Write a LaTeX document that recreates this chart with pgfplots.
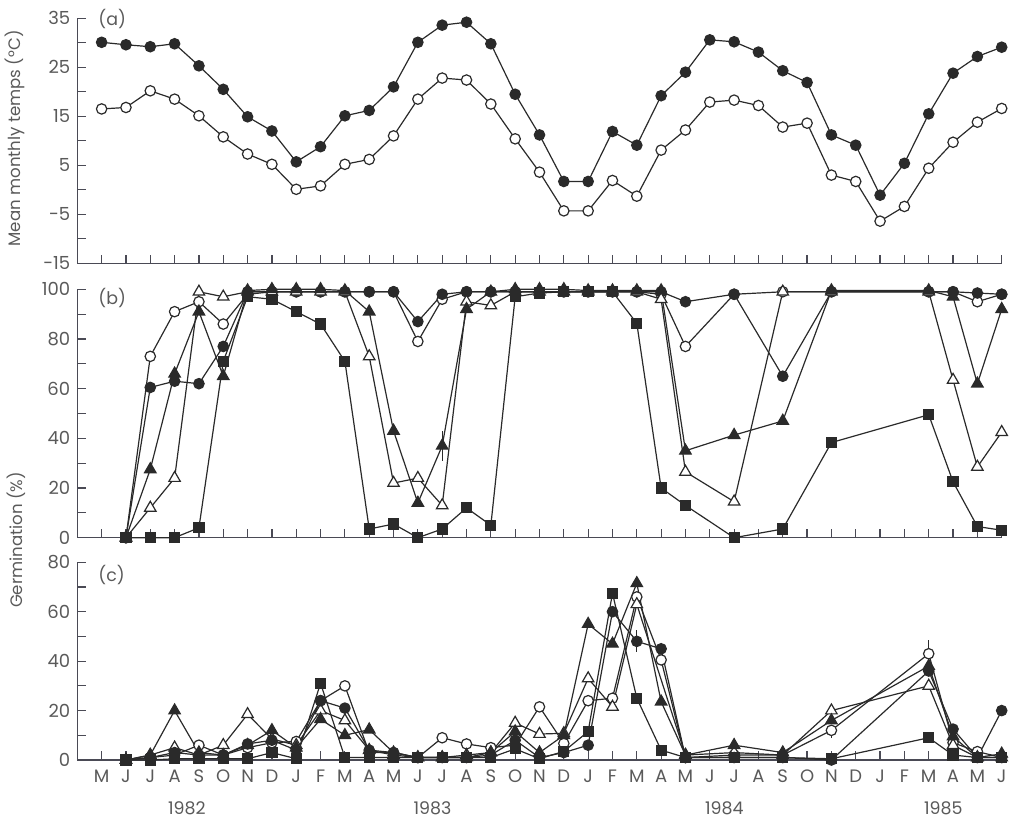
\documentclass[border=0pt]{standalone}
\usepackage{fontspec}
\setmainfont{Poppins}
\usepackage{pgfplots}
\pgfplotsset{compat=1.18}

\definecolor{ln}{HTML}{2A2A2A}
\definecolor{tx}{HTML}{5A5A5A}
\definecolor{ax}{HTML}{4A4A55}

\pgfplotsset{
  panel/.style={
    scale only axis, width=462.2pt, xmin=-1, xmax=37,
    anchor=south west,
    axis x line*=bottom, axis y line*=left,
    axis line style={ax, line width=0.7pt},
    every tick/.style={ax, line width=0.6pt},
    major tick length=4.3pt, minor tick length=4.3pt,
    tick align=inside,
    xtick={0,...,37}, xticklabels={},
    tick label style={font=\fontsize{9}{10}\selectfont, text=tx},
    clip=false,
    every axis plot/.append style={ln, line width=0.6pt},
  },
  fc/.style={mark=*, mark size=2.6pt, mark options={fill=ln, draw=ln}},
  oc/.style={mark=*, mark size=2.6pt, mark options={fill=white, draw=ln}},
  ft/.style={mark=triangle*, mark size=3.3pt, mark options={fill=ln, draw=ln}},
  ot/.style={mark=triangle*, mark size=3.3pt, mark options={fill=white, draw=ln}},
  fs/.style={mark=square*, mark size=2.5pt, mark options={fill=ln, draw=ln}},
  eb/.style={ln, line width=0.6pt, mark=none},
}
\newcommand{\lf}{\fontsize{8.7}{10}\selectfont}
\newcommand{\yf}{\fontsize{8.3}{10}\selectfont}

\begin{document}
\begin{tikzpicture}
\useasboundingbox (0,0) rectangle (508.5pt,409.5pt);

% ---------------- panel (a)
\begin{axis}[panel, at={(38.65pt,277.85pt)}, height=122.5pt,
  ymin=-15, ymax=35,
  ytick={-15,-10,...,35},
  yticklabels={-15,,-5,,5,,15,,25,,35}]
\addplot[fc] coordinates {
(0,30.1)(1,29.6)(2,29.2)(3,29.8)(4,25.3)(5,20.5)(6,14.9)(7,12.0)(8,5.7)(9,8.8)
(10,15.1)(11,16.2)(12,21.0)(13,30.1)(14,33.6)(15,34.2)(16,29.8)(17,19.5)(18,11.2)(19,1.7)
(20,1.7)(21,11.9)(22,9.1)(23,19.2)(24,24.0)(25,30.6)(26,30.2)(27,28.1)(28,24.3)(29,21.9)
(30,11.2)(31,9.1)(32,-1.1)(33,5.4)(34,15.5)(35,23.8)(36,27.2)(37,29.1)};
\addplot[oc] coordinates {
(0,16.5)(1,16.8)(2,20.2)(3,18.5)(4,15.1)(5,10.8)(6,7.3)(7,5.2)(8,0.1)(9,0.8)
(10,5.2)(11,6.2)(12,11.0)(13,18.5)(14,22.8)(15,22.4)(16,17.5)(17,10.4)(18,3.6)(19,-4.3)
(20,-4.3)(21,1.9)(22,-1.3)(23,8.1)(24,12.2)(25,17.9)(26,18.3)(27,17.2)(28,12.8)(29,13.6)
(30,3.0)(31,1.7)(32,-6.4)(33,-3.4)(34,4.4)(35,9.7)(36,13.8)(37,16.6)};
\node[anchor=west, text=tx, font=\lf, inner sep=0pt] at (axis cs:-0.15,34.9) {(a)};
\end{axis}

% ---------------- panel (b)
\begin{axis}[panel, at={(38.65pt,140.65pt)}, height=124.2pt,
  ymin=0, ymax=100,
  ytick={0,10,...,100},
  yticklabels={0,,20,,40,,60,,80,,100}]
\addplot[oc] coordinates {
(1,0)(2,73)(3,91)(4,95)(5,86)(6,98)(7,99)(8,99)(9,99)(10,99)(11,99)(12,99)(13,79)(14,96)
(15,99)(16,99)(17,99)(18,99)(19,99)(20,99)(21,99)(22,99)(23,98)(24,77)(26,98)(28,99)
(30,99)(34,99)(35,99)(36,95)(37,98)};
\addplot[fc] coordinates {
(1,0)(2,60.5)(3,63)(4,62)(5,77)(6,99)(7,99)(8,99)(9,99)(10,99)(11,99)(12,99)(13,87)(14,98)
(15,99)(16,99)(17,99)(18,99)(19,99)(20,99)(21,99)(22,99)(23,99)(24,95)(26,98)(28,65)
(30,99)(34,99)(35,99)(36,98.5)(37,98)};
\addplot[ot] coordinates {
(1,0)(2,12)(3,24)(4,99)(5,97)(6,99)(7,99)(8,99)(9,99)(10,99)(11,73)(12,22)(13,24)(14,13)
(15,95)(16,93.5)(17,99)(18,99)(19,99)(20,99)(21,99)(22,99)(23,96)(24,26.5)(26,14.5)(28,99)
(30,99)(34,99)(35,63.5)(36,28.5)(37,42.5)};
\addplot[ft] coordinates {
(1,0)(2,27.5)(3,66)(4,91)(5,65)(6,99.5)(7,100)(8,100)(9,100)(10,99.5)(11,91)(12,43)(13,14)(14,37)
(15,92)(16,99)(17,100)(18,100)(19,100)(20,99.5)(21,99.5)(22,99.5)(23,99.5)(24,35)(26,41.3)(28,47)
(30,99.5)(34,99.5)(35,97)(36,62)(37,92)};
\addplot[fs] coordinates {
(1,0)(2,0)(3,0)(4,4)(5,71)(6,97)(7,96)(8,91)(9,86)(10,71)(11,3.5)(12,5.5)(13,0)(14,3.5)
(15,12)(16,5)(17,97)(18,98.5)(19,99)(20,99)(21,99)(22,86.3)(23,20)(24,13)(26,0)(28,3.5)
(30,38.3)(34,49.5)(35,22.5)(36,4.5)(37,3)};
\addplot[eb] coordinates {(14,31)(14,43)};
\node[anchor=west, text=tx, font=\lf, inner sep=0pt] at (axis cs:-0.15,96.5) {(b)};
\end{axis}

% ---------------- panel (c)
\begin{axis}[panel, at={(38.65pt,29.5pt)}, height=98.85pt,
  ymin=0, ymax=80,
  ytick={0,10,...,80},
  yticklabels={0,,20,,40,,60,,80},
  xticklabels={M,J,J,A,S,O,N,D,J,F,M,A,M,J,J,A,S,O,N,D,J,F,M,A,M,J,J,A,S,O,N,D,J,F,M,A,M,J},
  xticklabel style={yshift=-1.5pt}]
\addplot[oc] coordinates {
(1,0)(2,1)(3,2)(4,6)(5,2)(6,5)(7,7)(8,7.5)(9,24)(10,30)(11,3)(12,3)(13,1)(14,9)
(15,6.5)(16,5)(17,6)(18,21.5)(19,6.7)(20,24)(21,25)(22,66)(23,40.5)(24,1)(26,2)(28,2)
(30,12)(34,43)(35,7)(36,3.4)(37,1)};
\addplot[ot] coordinates {
(1,0)(2,2)(3,5)(4,2)(5,6)(6,18.5)(7,8.5)(8,6)(9,20)(10,16)(11,4)(12,2)(13,1)(14,1)
(15,2)(16,3)(17,15)(18,10.5)(19,10.8)(20,33)(21,21.5)(22,63)(24,2)(26,3)(28,2)
(30,20)(34,30)(35,6)(36,1)(37,1)};
\addplot[ft] coordinates {
(1,0)(2,2)(3,20)(4,3)(5,2)(6,6)(7,12)(8,5)(9,16.5)(10,10)(11,12.3)(12,3)(13,1)(14,1)
(15,1)(16,3)(17,11.5)(18,3)(19,10)(20,55)(21,47)(22,71.5)(23,23.6)(24,2)(26,6)(28,3)
(30,16)(34,38)(35,9.5)(36,1)(37,2.5)};
\addplot[fc] coordinates {
(1,0)(2,1)(3,3)(4,2)(5,2)(6,6.5)(7,8)(8,4)(9,24)(10,21)(11,4)(12,3)(13,1)(14,1)
(15,1)(16,2)(17,8)(18,1)(19,3)(20,6)(21,60)(22,48)(23,45)(24,1)(26,1)(28,1)
(30,0)(34,36)(35,12.5)(36,1)(37,20)};
\addplot[fs] coordinates {
(1,0)(2,0)(3,0.5)(4,0.5)(5,0.5)(6,0.5)(7,3)(8,0.5)(9,31)(10,1)(11,1)(12,1)(13,1)(14,1)
(15,1)(16,1)(17,4.5)(18,0.5)(19,3.5)(20,11.5)(21,67.5)(22,25)(23,4)(24,1)(26,1)(28,1)
(30,0.5)(34,9)(35,2)(36,1)(37,1)};
\addplot[eb] coordinates {(22,43.8)(22,52.6)};
\addplot[eb] coordinates {(34,43)(34,48.6)};
\addplot[eb] coordinates {(30,9)(30,12)};
\node[anchor=west, text=tx, font=\lf, inner sep=0pt] at (axis cs:-0.15,74.9) {(c)};
\node[text=tx, font=\lf, yshift=-24pt] at (axis cs:3.5,0) {1982};
\node[text=tx, font=\lf, yshift=-24pt] at (axis cs:13.6,0) {1983};
\node[text=tx, font=\lf, yshift=-24pt] at (axis cs:25.6,0) {1984};
\node[text=tx, font=\lf, yshift=-24pt] at (axis cs:34.6,0) {1985};
\end{axis}

\node[rotate=90, text=tx, font=\yf] at (7.5pt,340.25pt) {Mean monthly temps (°C)};
\node[rotate=90, text=tx, font=\yf] at (8pt,139.5pt) {Germination (\%)};
\end{tikzpicture}
\end{document}
